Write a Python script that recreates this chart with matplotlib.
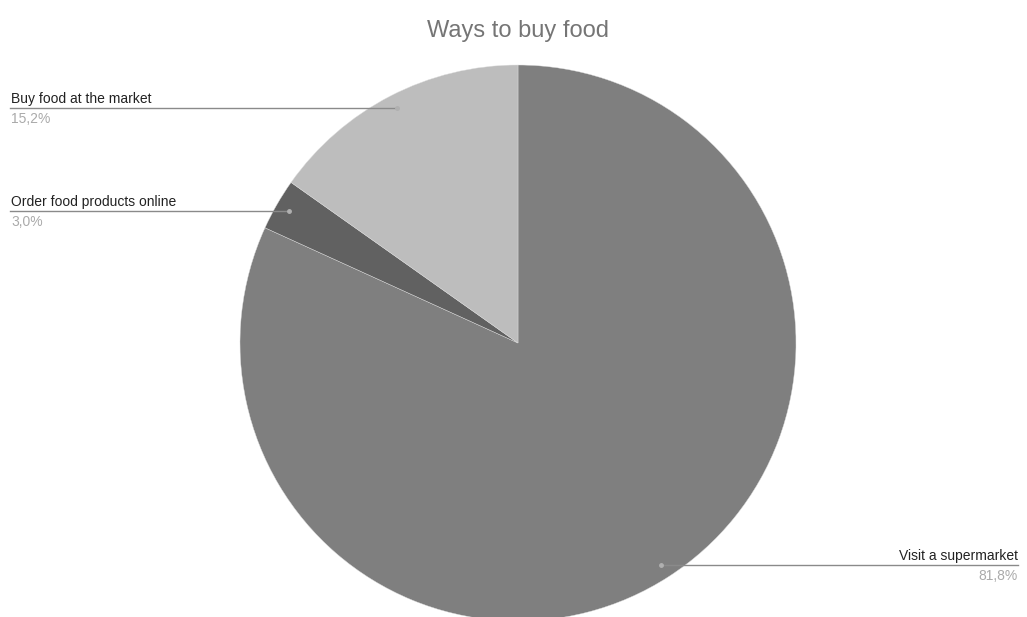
import numpy as np
import matplotlib
matplotlib.use("Agg")
import matplotlib.pyplot as plt

# Share of respondents by way of buying food
categories = ["Visit a supermarket", "Order food products online", "Buy food at the market"]
shares = [81.8, 3.0, 15.2]
colors = ["#7f7f7f", "#616161", "#bdbdbd"]
title = "Ways to buy food"

W, H = 1027, 617
fig = plt.figure(figsize=(W / 100, H / 100), dpi=100)
ax = fig.add_axes([0, 0, 1, 1])
ax.set_xlim(0, W)
ax.set_ylim(0, H)
ax.set_aspect("equal")
ax.axis("off")

cx, cy, R = 518, H - 343, 278
wedges, _ = ax.pie(shares, colors=colors, startangle=90, counterclock=False,
                   center=(cx, cy), radius=R, frame=True,
                   wedgeprops=dict(edgecolor="#dddddd", linewidth=0.3))
ax.set_xlim(0, W)
ax.set_ylim(0, H)
ax.axis("off")

font = "Liberation Sans"
line_color = "#8a8a8a"
fs = 10
for w, name, val in zip(wedges, categories, shares):
    mid = np.deg2rad((w.theta1 + w.theta2) / 2)
    px = cx + 0.95 * R * np.cos(mid)
    py = cy + 0.95 * R * np.sin(mid)
    pct = f"{val:.1f}%".replace(".", ",")
    ax.plot([px], [py], "o", ms=2.5, color="#b0b0b0", zorder=5)
    if px < cx:
        x_end, ha = 10, "left"
        ax.plot([x_end, px], [py, py], color=line_color, lw=1, zorder=4)
        tx = x_end + 1
    else:
        x_end, ha = 1018, "right"
        ax.plot([px, x_end], [py, py], color=line_color, lw=1, zorder=4)
        tx = x_end
    ax.text(tx, py + 2, name, ha=ha, va="bottom", fontsize=fs,
            family=font, color="#222222")
    ax.text(tx, py - 4, pct, ha=ha, va="top", fontsize=fs,
            family=font, color="#aaaaaa")

ax.text(cx, H - 31, title, ha="center", va="center", fontsize=17,
        family=font, color="#757575")

fig.savefig("out.png", dpi=100, facecolor="white")
